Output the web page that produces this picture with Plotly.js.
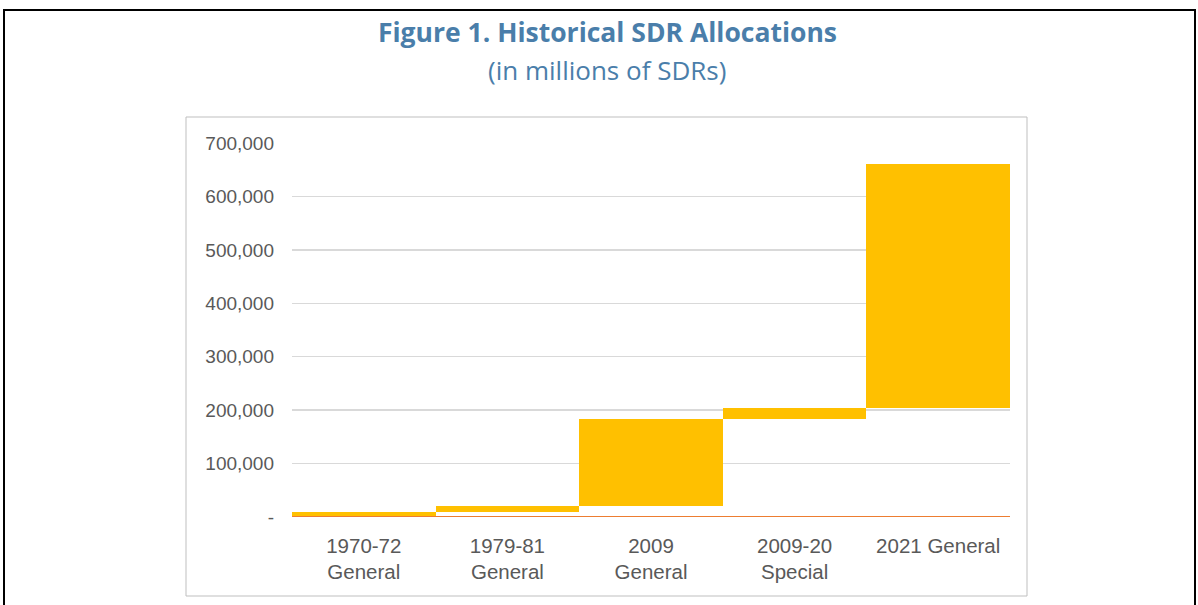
<!DOCTYPE html>
<html>
<head>
<meta charset="utf-8">
<script src="https://cdn.plot.ly/plotly-3.0.1.min.js"></script>
<style>
  html, body { margin: 0; padding: 0; background: #ffffff; }
  #chart { width: 1198px; height: 605px; }
</style>
</head>
<body>
<div id="chart"></div>
<script>
// ---- Data ----
const categories = ['1970-72 General', '1979-81 General', '2009 General', '2009-20 Special', '2021 General'];
const tickLabels = ['1970-72<br>General', '1979-81<br>General', '2009<br>General', '2009-20<br>Special', '2021 General'];
const allocations = [9315, 12118, 161200, 21500, 456500]; // millions of SDRs
const yTickVals = [0, 100000, 200000, 300000, 400000, 500000, 600000, 700000];
const yTickText = ['-', '100,000', '200,000', '300,000', '400,000', '500,000', '600,000', '700,000'];
const baselineValue = 0;
const titleText = 'Figure 1. Historical SDR Allocations';
const subtitleText = '(in millions of SDRs)';

// floating bar bases = cumulative total before each allocation
const bases = [];
let running = 0;
allocations.forEach(v => { bases.push(running); running += v; });

// ---- Layout geometry ----
const W = 1198, H = 605;
const M = { l: 292, r: 188, t: 143, b: 88 };
const plotW = W - M.l - M.r, plotH = H - M.t - M.b;
const px2paperX = px => (px - M.l) / plotW;
const px2paperY = py => (H - M.b - py) / plotH;

const textGray = '#595959';
const titleBlue = '#4A7EAA';
const titleFamily = 'Open Sans, Noto Sans, sans-serif';

const trace = {
  type: 'bar',
  x: categories,
  y: allocations,
  base: bases,
  marker: { color: '#FFC000', line: { width: 0 } },
  hoverinfo: 'x+y',
  showlegend: false
};

const layout = {
  width: W,
  height: H,
  margin: M,
  paper_bgcolor: '#ffffff',
  plot_bgcolor: '#ffffff',
  bargap: 0,
  showlegend: false,
  title: {
    text: '<b>' + titleText + '</b>',
    font: { family: titleFamily, size: 26.5, color: titleBlue },
    x: 607.5 / W, xref: 'container', xanchor: 'center',
    y: 1 - 32.5 / H, yref: 'container', yanchor: 'middle'
  },
  annotations: [
    { text: subtitleText, showarrow: false, xref: 'paper', yref: 'paper',
      x: px2paperX(607), y: px2paperY(70), xanchor: 'center', yanchor: 'middle',
      font: { family: titleFamily, size: 26, color: titleBlue } }
  ],
  xaxis: {
    type: 'category',
    tickmode: 'array',
    tickvals: categories,
    ticktext: tickLabels,
    showgrid: false,
    showline: false,
    zeroline: false,
    ticks: '',
    ticklabelstandoff: 14,
    tickfont: { family: 'Liberation Sans, Arial, sans-serif', size: 20.5, color: textGray },
    fixedrange: true
  },
  yaxis: {
    range: [0, 700000],
    tickmode: 'array',
    tickvals: yTickVals,
    ticktext: yTickText,
    showgrid: true,
    gridcolor: '#D9D9D9',
    gridwidth: 1.5,
    showline: false,
    zeroline: false,
    ticks: '',
    ticklabelstandoff: 17,
    tickfont: { family: 'Liberation Sans, Arial, sans-serif', size: 19, color: textGray },
    fixedrange: true
  },
  shapes: [
    // baseline (orange)
    { type: 'line', xref: 'paper', yref: 'y', x0: 0, x1: 1, y0: baselineValue, y1: baselineValue,
      line: { color: '#ED7D31', width: 2 }, layer: 'above' },
    // inner chart box
    { type: 'rect', xref: 'paper', yref: 'paper',
      x0: px2paperX(186), x1: px2paperX(1027), y0: px2paperY(596), y1: px2paperY(117),
      line: { color: '#BFBFBF', width: 1 }, fillcolor: 'rgba(0,0,0,0)', layer: 'below' },
    // outer figure frame
    { type: 'rect', xref: 'paper', yref: 'paper',
      x0: px2paperX(4), x1: px2paperX(1195), y0: px2paperY(620), y1: px2paperY(10),
      line: { color: '#000000', width: 2 }, fillcolor: 'rgba(0,0,0,0)', layer: 'below' }
  ]
};

Plotly.newPlot('chart', [trace], layout, { displayModeBar: false, staticPlot: true });
</script>
</body>
</html>
